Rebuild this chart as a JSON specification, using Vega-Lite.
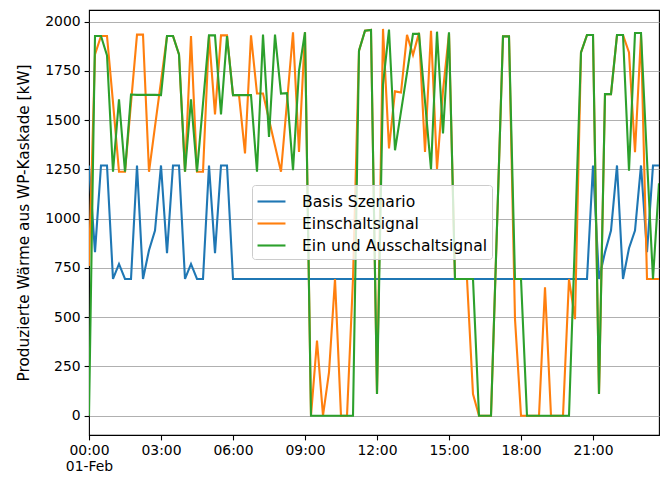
{
  "$schema": "https://vega.github.io/schema/vega-lite/v6.json",
  "width": 570,
  "height": 425,
  "autosize": "none",
  "padding": {"left": 89, "top": 10, "right": 3, "bottom": 46},
  "config": {
    "font": "DejaVu Sans",
    "view": {"stroke": "#000000", "strokeWidth": 1.1},
    "axis": {
      "domain": false,
      "tickColor": "#000000",
      "tickSize": 4.9,
      "tickWidth": 1.1,
      "labelFontSize": 13.9,
      "labelColor": "#000000",
      "labelPadding": 4,
      "titleFontSize": 15.3,
      "titleFontWeight": "normal",
      "titleColor": "#000000",
      "gridColor": "#b0b0b0",
      "gridWidth": 1.1
    },
    "legend": {
      "strokeColor": "#cccccc",
      "fillColor": "rgba(255,255,255,0.8)",
      "cornerRadius": 3,
      "padding": 4,
      "labelFontSize": 15.6,
      "labelColor": "#000000",
      "labelLimit": 400,
      "rowPadding": 0
    }
  },
  "data": {
    "values": [
      {"t": "2023-02-01T00:00Z", "b": 1270, "e": 760, "a": 0},
      {"t": "2023-02-01T00:15Z", "b": 830, "e": 1833, "a": 1927},
      {"t": "2023-02-01T00:30Z", "b": 1270, "e": 1927, "a": 1927},
      {"t": "2023-02-01T00:45Z", "b": 1270, "e": 1927, "a": 1829},
      {"t": "2023-02-01T01:00Z", "b": 694, "e": 1590, "a": 1238},
      {"t": "2023-02-01T01:15Z", "b": 770, "e": 1238, "a": 1606},
      {"t": "2023-02-01T01:30Z", "b": 694, "e": 1238, "a": 1238},
      {"t": "2023-02-01T01:45Z", "b": 694, "e": 1586, "a": 1630},
      {"t": "2023-02-01T02:00Z", "b": 1270, "e": 1934, "a": 1628},
      {"t": "2023-02-01T02:15Z", "b": 694, "e": 1934, "a": 1628},
      {"t": "2023-02-01T02:30Z", "b": 840, "e": 1238, "a": 1628},
      {"t": "2023-02-01T02:45Z", "b": 940, "e": 1468, "a": 1628},
      {"t": "2023-02-01T03:00Z", "b": 1270, "e": 1697, "a": 1627},
      {"t": "2023-02-01T03:15Z", "b": 825, "e": 1927, "a": 1927},
      {"t": "2023-02-01T03:30Z", "b": 1270, "e": 1927, "a": 1927},
      {"t": "2023-02-01T03:45Z", "b": 1270, "e": 1833, "a": 1833},
      {"t": "2023-02-01T04:00Z", "b": 694, "e": 1238, "a": 1238},
      {"t": "2023-02-01T04:15Z", "b": 770, "e": 1927, "a": 1606},
      {"t": "2023-02-01T04:30Z", "b": 694, "e": 1238, "a": 1238},
      {"t": "2023-02-01T04:45Z", "b": 694, "e": 1238, "a": 1584},
      {"t": "2023-02-01T05:00Z", "b": 1270, "e": 1930, "a": 1930},
      {"t": "2023-02-01T05:15Z", "b": 825, "e": 1529, "a": 1930},
      {"t": "2023-02-01T05:30Z", "b": 1270, "e": 1930, "a": 1529},
      {"t": "2023-02-01T05:45Z", "b": 1270, "e": 1930, "a": 1927},
      {"t": "2023-02-01T06:00Z", "b": 694, "e": 1627, "a": 1627},
      {"t": "2023-02-01T06:15Z", "b": 694, "e": 1627, "a": 1627},
      {"t": "2023-02-01T06:30Z", "b": 694, "e": 1331, "a": 1627},
      {"t": "2023-02-01T06:45Z", "b": 694, "e": 1930, "a": 1627},
      {"t": "2023-02-01T07:00Z", "b": 694, "e": 1635, "a": 1238},
      {"t": "2023-02-01T07:15Z", "b": 694, "e": 1635, "a": 1934},
      {"t": "2023-02-01T07:30Z", "b": 694, "e": 1503, "a": 1415},
      {"t": "2023-02-01T07:45Z", "b": 694, "e": 1370, "a": 1934},
      {"t": "2023-02-01T08:00Z", "b": 694, "e": 1238, "a": 1635},
      {"t": "2023-02-01T08:15Z", "b": 694, "e": 1590, "a": 1637},
      {"t": "2023-02-01T08:30Z", "b": 694, "e": 1946, "a": 1246},
      {"t": "2023-02-01T08:45Z", "b": 694, "e": 1339, "a": 1750},
      {"t": "2023-02-01T09:00Z", "b": 694, "e": 1946, "a": 1946},
      {"t": "2023-02-01T09:15Z", "b": 694, "e": 0, "a": 0},
      {"t": "2023-02-01T09:30Z", "b": 694, "e": 381, "a": 0},
      {"t": "2023-02-01T09:45Z", "b": 694, "e": 0, "a": 0},
      {"t": "2023-02-01T10:00Z", "b": 694, "e": 220, "a": 0},
      {"t": "2023-02-01T10:15Z", "b": 694, "e": 694, "a": 0},
      {"t": "2023-02-01T10:30Z", "b": 694, "e": 0, "a": 0},
      {"t": "2023-02-01T10:45Z", "b": 694, "e": 0, "a": 0},
      {"t": "2023-02-01T11:00Z", "b": 694, "e": 694, "a": 0},
      {"t": "2023-02-01T11:15Z", "b": 694, "e": 1853, "a": 1853},
      {"t": "2023-02-01T11:30Z", "b": 694, "e": 1954, "a": 1954},
      {"t": "2023-02-01T11:45Z", "b": 694, "e": 1958, "a": 1958},
      {"t": "2023-02-01T12:00Z", "b": 694, "e": 110, "a": 110},
      {"t": "2023-02-01T12:15Z", "b": 694, "e": 1963, "a": 1680},
      {"t": "2023-02-01T12:30Z", "b": 694, "e": 1356, "a": 1960},
      {"t": "2023-02-01T12:45Z", "b": 694, "e": 1646, "a": 1347},
      {"t": "2023-02-01T13:00Z", "b": 694, "e": 1640, "a": 1543},
      {"t": "2023-02-01T13:15Z", "b": 694, "e": 1933, "a": 1740},
      {"t": "2023-02-01T13:30Z", "b": 694, "e": 1831, "a": 1938},
      {"t": "2023-02-01T13:45Z", "b": 694, "e": 1943, "a": 1938},
      {"t": "2023-02-01T14:00Z", "b": 694, "e": 1339, "a": 1595},
      {"t": "2023-02-01T14:15Z", "b": 694, "e": 1954, "a": 1251},
      {"t": "2023-02-01T14:30Z", "b": 694, "e": 1252, "a": 1949},
      {"t": "2023-02-01T14:45Z", "b": 694, "e": 1650, "a": 1432},
      {"t": "2023-02-01T15:00Z", "b": 694, "e": 1940, "a": 1946},
      {"t": "2023-02-01T15:15Z", "b": 694, "e": 694, "a": 694},
      {"t": "2023-02-01T15:30Z", "b": 694, "e": 694, "a": 694},
      {"t": "2023-02-01T15:45Z", "b": 694, "e": 694, "a": 694},
      {"t": "2023-02-01T16:00Z", "b": 694, "e": 110, "a": 694},
      {"t": "2023-02-01T16:15Z", "b": 694, "e": 0, "a": 0},
      {"t": "2023-02-01T16:30Z", "b": 694, "e": 0, "a": 0},
      {"t": "2023-02-01T16:45Z", "b": 694, "e": 0, "a": 0},
      {"t": "2023-02-01T17:00Z", "b": 694, "e": 960, "a": 960},
      {"t": "2023-02-01T17:15Z", "b": 694, "e": 1925, "a": 1925},
      {"t": "2023-02-01T17:30Z", "b": 694, "e": 1925, "a": 1925},
      {"t": "2023-02-01T17:45Z", "b": 694, "e": 490, "a": 694},
      {"t": "2023-02-01T18:00Z", "b": 694, "e": 0, "a": 694},
      {"t": "2023-02-01T18:15Z", "b": 694, "e": 0, "a": 0},
      {"t": "2023-02-01T18:30Z", "b": 694, "e": 0, "a": 0},
      {"t": "2023-02-01T18:45Z", "b": 694, "e": 0, "a": 0},
      {"t": "2023-02-01T19:00Z", "b": 694, "e": 651, "a": 0},
      {"t": "2023-02-01T19:15Z", "b": 694, "e": 0, "a": 0},
      {"t": "2023-02-01T19:30Z", "b": 694, "e": 0, "a": 0},
      {"t": "2023-02-01T19:45Z", "b": 694, "e": 0, "a": 0},
      {"t": "2023-02-01T20:00Z", "b": 694, "e": 694, "a": 0},
      {"t": "2023-02-01T20:15Z", "b": 694, "e": 490, "a": 900},
      {"t": "2023-02-01T20:30Z", "b": 694, "e": 1844, "a": 1844},
      {"t": "2023-02-01T20:45Z", "b": 694, "e": 1932, "a": 1932},
      {"t": "2023-02-01T21:00Z", "b": 1270, "e": 1932, "a": 1932},
      {"t": "2023-02-01T21:15Z", "b": 694, "e": 110, "a": 110},
      {"t": "2023-02-01T21:30Z", "b": 830, "e": 1632, "a": 1632},
      {"t": "2023-02-01T21:45Z", "b": 940, "e": 1632, "a": 1632},
      {"t": "2023-02-01T22:00Z", "b": 1270, "e": 1932, "a": 1932},
      {"t": "2023-02-01T22:15Z", "b": 694, "e": 1932, "a": 1932},
      {"t": "2023-02-01T22:30Z", "b": 850, "e": 1844, "a": 1244},
      {"t": "2023-02-01T22:45Z", "b": 940, "e": 1337, "a": 1942},
      {"t": "2023-02-01T23:00Z", "b": 1270, "e": 1932, "a": 1942},
      {"t": "2023-02-01T23:15Z", "b": 830, "e": 694, "a": 1300},
      {"t": "2023-02-01T23:30Z", "b": 1270, "e": 694, "a": 694},
      {"t": "2023-02-01T23:45Z", "b": 1270, "e": 694, "a": 1180}
    ]
  },
  "transform": [{"fold": ["b", "e", "a"], "as": ["s", "v"]}],
  "mark": {"type": "line", "strokeWidth": 2.1, "clip": true},
  "encoding": {
    "x": {
      "field": "t",
      "type": "temporal",
      "scale": {
        "type": "utc",
        "nice": false,
        "domain": [
          {"year": 2023, "month": 2, "date": 1, "hours": 0, "minutes": 0, "utc": true},
          {"year": 2023, "month": 2, "date": 1, "hours": 23, "minutes": 45, "utc": true}
        ]
      },
      "axis": {
        "title": null,
        "grid": false,
        "values": [
          {"year": 2023, "month": 2, "date": 1, "hours": 0, "utc": true},
          {"year": 2023, "month": 2, "date": 1, "hours": 3, "utc": true},
          {"year": 2023, "month": 2, "date": 1, "hours": 6, "utc": true},
          {"year": 2023, "month": 2, "date": 1, "hours": 9, "utc": true},
          {"year": 2023, "month": 2, "date": 1, "hours": 12, "utc": true},
          {"year": 2023, "month": 2, "date": 1, "hours": 15, "utc": true},
          {"year": 2023, "month": 2, "date": 1, "hours": 18, "utc": true},
          {"year": 2023, "month": 2, "date": 1, "hours": 21, "utc": true}
        ],
        "labelExpr": "utchours(datum.value) == 0 ? ['00:00', '01-Feb'] : utcFormat(datum.value, '%H:%M')",
        "labelLineHeight": 16,
        "labelFlush": false,
        "labelOverlap": false
      }
    },
    "y": {
      "field": "v",
      "type": "quantitative",
      "scale": {"domain": [-98, 2059], "nice": false, "zero": false},
      "axis": {
        "title": "Produzierte Wärme aus WP-Kaskade [kW]",
        "values": [0, 250, 500, 750, 1000, 1250, 1500, 1750, 2000],
        "format": "d",
        "grid": true,
        "titlePadding": 13
      }
    },
    "color": {
      "field": "s",
      "type": "nominal",
      "scale": {"domain": ["b", "e", "a"], "range": ["#1f77b4", "#ff7f0e", "#2ca02c"]},
      "legend": {
        "title": null,
        "orient": "none",
        "legendX": 163,
        "legendY": 175,
        "symbolType": "M-1.25,0H1.25",
        "symbolSize": 500,
        "symbolStrokeWidth": 2.1,
        "symbolOffset": 3,
        "labelOffset": 18,
        "labelExpr": "datum.value == 'b' ? 'Basis Szenario' : datum.value == 'e' ? 'Einschaltsignal' : 'Ein und Ausschaltsignal'"
      }
    }
  }
}
